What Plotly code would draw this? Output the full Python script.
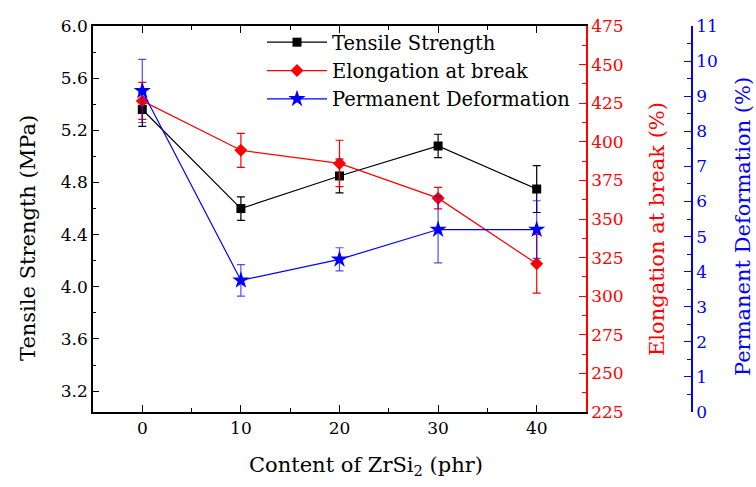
import plotly.graph_objects as go

content = [0, 10, 20, 30, 40]
tensile = [5.36, 4.60, 4.85, 5.08, 4.75]
tensile_err = [0.13, 0.09, 0.13, 0.09, 0.18]
elong = [426.5, 394.5, 386.0, 363.5, 321.0]
elong_err = [12, 11, 15, 7, 19]
perm = [9.15, 3.75, 4.35, 5.2, 5.2]
perm_err = [0.9, 0.45, 0.33, 0.95, 0.82]

FONT = "DejaVu Serif"
TICKS = 17
TICKF = dict(family=FONT, size=TICKS)
TITLEF = 21
LEGF = 19.5

fig = go.Figure()
fig.add_trace(go.Scatter(
    x=content, y=tensile, name="Tensile Strength", mode="lines+markers",
    line=dict(color="black", width=1.2),
    marker=dict(symbol="square", size=9, color="black"),
    error_y=dict(type="data", array=tensile_err, color="black", thickness=1.2, width=4),
    yaxis="y"))
fig.add_trace(go.Scatter(
    x=content, y=elong, name="Elongation at break", mode="lines+markers",
    line=dict(color="#ff0000", width=1.2),
    marker=dict(symbol="diamond", size=10, color="#ff0000"),
    error_y=dict(type="data", array=elong_err, color="#ff0000", thickness=1.2, width=4),
    yaxis="y2"))
fig.add_trace(go.Scatter(
    x=content, y=perm, name="Permanent Deformation", mode="lines+markers",
    line=dict(color="#0000ff", width=1.2),
    marker=dict(symbol="star", size=13, color="#0000ff"),
    error_y=dict(type="data", array=perm_err, color="rgba(0,0,255,0.7)", thickness=1.2, width=4),
    yaxis="y3"))

L, R, T, B = 93, 64, 26, 75
W, H = 756, 487
pw = W - L - R
ph = H - T - B
xdom = (586 - L) / pw


def px(xp):
    return (xp - L) / pw


def py(yp):
    return 1 - (yp - T) / ph


fig.update_layout(
    width=W, height=H,
    margin=dict(l=L, r=R, t=T, b=B),
    paper_bgcolor="white", plot_bgcolor="white",
    font=dict(family=FONT, color="black"),
    showlegend=True,
    legend=dict(x=px(262), y=py(23), xanchor="left", yanchor="top",
                font=dict(family=FONT, size=LEGF, color="black"),
                itemwidth=60,
                bgcolor="rgba(0,0,0,0)", tracegroupgap=0),
    xaxis=dict(domain=[0, xdom], range=[-5, 45], tickmode="linear", tick0=0, dtick=10,
               ticks="inside", ticklen=7, tickwidth=1.2, tickcolor="black",
               minor=dict(dtick=5, ticks="inside", ticklen=4, tickwidth=1.2, tickcolor="black"),
               showline=True, linecolor="black", linewidth=1.5, mirror="ticks",
               showgrid=False, zeroline=False, tickfont=TICKF, automargin=False),
    yaxis=dict(range=[3.04, 6.0], tickmode="linear", tick0=3.2, dtick=0.4, tickformat=".1f",
               ticks="inside", ticklen=6, tickwidth=1.2, tickcolor="black",
               minor=dict(dtick=0.2, ticks="inside", ticklen=3, tickwidth=1.2, tickcolor="black"),
               showline=True, linecolor="black", linewidth=1.5,
               showgrid=False, zeroline=False, tickfont=TICKF, automargin=False),
    yaxis2=dict(range=[225, 475], tickmode="linear", tick0=225, dtick=25, overlaying="y",
                side="right", anchor="x",
                ticks="inside", ticklen=7, tickwidth=1.2, tickcolor="#ff0000",
                minor=dict(dtick=12.5, ticks="inside", ticklen=4, tickwidth=1.2, tickcolor="#ff0000"),
                showline=True, linecolor="#ff0000", linewidth=1.5,
                showgrid=False, zeroline=False,
                tickfont=dict(family=FONT, size=TICKS, color="#ff0000"), automargin=False),
    yaxis3=dict(range=[0, 11], tickmode="linear", tick0=0, dtick=1, overlaying="y",
                side="right", anchor="free", position=1.0,
                ticks="inside", ticklen=7, tickwidth=1.2, tickcolor="#0000ff",
                minor=dict(dtick=0.5, ticks="inside", ticklen=4, tickwidth=1.2, tickcolor="#0000ff"),
                showline=True, linecolor="#0000ff", linewidth=1.5,
                showgrid=False, zeroline=False,
                tickfont=dict(family=FONT, size=TICKS, color="#0000ff"), automargin=False),
)

titles = [
    ("Content of ZrSi<sub>2</sub> (phr)", 366, 466, 0, "black"),
    ("Tensile Strength (MPa)", 28, 238, -90, "black"),
    ("Elongation at break (%)", 657, 229, -90, "#ff0000"),
    ("Permanent Deformation (%)", 743, 227, -90, "#0000ff"),
]
for text, xp, yp, ang, col in titles:
    fig.add_annotation(text=text, xref="paper", yref="paper", x=px(xp), y=py(yp),
                       xanchor="center", yanchor="middle", textangle=ang, showarrow=False,
                       font=dict(family=FONT, size=TITLEF, color=col))

fig.write_html("out.html")
